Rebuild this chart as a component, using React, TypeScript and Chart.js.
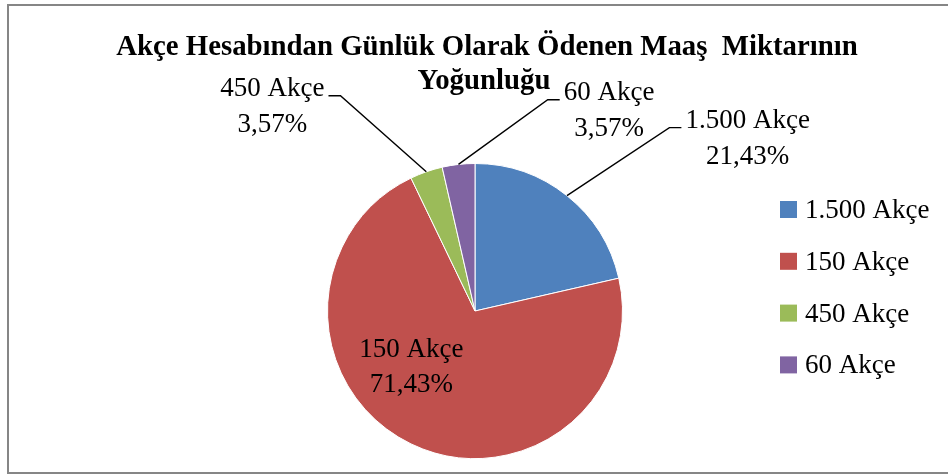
import React, { useEffect, useRef } from 'react';
import { Chart, registerables } from 'chart.js';

Chart.register(...registerables);

const TITLE_LINES = ['Akçe Hesabından Günlük Olarak Ödenen Maaş  Miktarının', 'Yoğunluğu'];
const CATEGORIES = ['1.500 Akçe', '150 Akçe', '450 Akçe', '60 Akçe'];
const COUNTS = [6, 20, 1, 1];
const COLORS = ['#4F81BD', '#C0504D', '#9BBB59', '#8064A2'];

const FONT = '"Liberation Serif", "Times New Roman", serif';
const LABEL_PX = 27;
const TITLE_PX = 28.8;

// label placement relative to the arc centre, in units of the outer radius
const LABEL_LAYOUT: any[] = [
  { kind: 'out', elbow: [1.318, -1.243], side: 1 },
  { kind: 'in', at: [-0.432, 0.311] },
  { kind: 'out', elbow: [-0.912, -1.459], side: -1 },
  { kind: 'out', elbow: [0.493, -1.432], side: 1 },
];

const fmtPct = (v: number, total: number) =>
  ((v / total) * 100).toFixed(2).replace('.', ',') + '%';

const overlay = {
  id: 'overlay',
  afterDraw(chart: any) {
    const ctx = chart.ctx as CanvasRenderingContext2D;
    ctx.save();
    ctx.fillStyle = '#000';
    ctx.textBaseline = 'alphabetic';

    // title
    ctx.font = `bold ${TITLE_PX}px ${FONT}`;
    ctx.textAlign = 'center';
    ctx.fillText(TITLE_LINES[0], 487, 55);
    ctx.fillText(TITLE_LINES[1], 484, 89);

    // legend
    ctx.font = `${LABEL_PX}px ${FONT}`;
    ctx.textAlign = 'left';
    CATEGORIES.forEach((c, i) => {
      const cy = 209.5 + i * 51.8;
      ctx.fillStyle = COLORS[i];
      ctx.fillRect(780, cy - 8.5, 17, 17);
      ctx.fillStyle = '#000';
      ctx.fillText(c, 805, cy + 8.5);
    });

    // data labels
    const total = COUNTS.reduce((a, b) => a + b, 0);
    const meta = chart.getDatasetMeta(0);
    meta.data.forEach((arc: any, i: number) => {
      const p = arc.getProps(['x', 'y', 'startAngle', 'endAngle', 'outerRadius'], true);
      const mid = (p.startAngle + p.endAngle) / 2;
      const r = p.outerRadius;
      const l1 = CATEGORIES[i];
      const l2 = fmtPct(COUNTS[i], total);
      const lay = LABEL_LAYOUT[i];
      ctx.font = `${LABEL_PX}px ${FONT}`;
      ctx.textAlign = 'center';
      ctx.fillStyle = '#000';
      if (lay.kind === 'in') {
        const tx = p.x + lay.at[0] * r;
        const ty = p.y + lay.at[1] * r;
        ctx.fillText(l1, tx, ty);
        ctx.fillText(l2, tx, ty + 35);
      } else {
        const sx = p.x + Math.cos(mid) * r;
        const sy = p.y + Math.sin(mid) * r;
        const ex = p.x + lay.elbow[0] * r;
        const ey = p.y + lay.elbow[1] * r;
        const endX = ex + lay.side * 12;
        ctx.strokeStyle = '#000';
        ctx.lineWidth = 1.4;
        ctx.beginPath();
        ctx.moveTo(sx, sy);
        ctx.lineTo(ex, ey);
        ctx.lineTo(endX, ey);
        ctx.stroke();
        const W = Math.max(ctx.measureText(l1).width, ctx.measureText(l2).width);
        const cx = lay.side > 0 ? endX + 4 + W / 2 : endX - 4 - W / 2;
        ctx.fillText(l1, cx, ey);
        ctx.fillText(l2, cx, ey + 36);
      }
    });
    ctx.restore();
  },
};

export default function App() {
  const ref = useRef<HTMLCanvasElement | null>(null);
  useEffect(() => {
    if (!ref.current) return;
    const chart = new Chart(ref.current, {
      type: 'pie',
      data: {
        labels: CATEGORIES,
        datasets: [
          {
            data: COUNTS,
            backgroundColor: COLORS,
            borderColor: '#ffffff',
            borderWidth: 1,
          },
        ],
      },
      options: {
        responsive: false,
        animation: false,
        layout: { padding: { left: 327, right: 325, top: 163, bottom: 15 } },
        plugins: {
          legend: { display: false },
          title: { display: false },
          tooltip: { enabled: false },
        },
      },
      plugins: [overlay],
    });
    return () => chart.destroy();
  }, []);

  return (
    <div
      style={{
        position: 'fixed',
        left: 0,
        top: 0,
        width: 948,
        height: 474,
        overflow: 'hidden',
        background: '#fff',
      }}
    >
      <div
        style={{
          position: 'absolute',
          left: 7,
          top: 4,
          width: 960,
          height: 470,
          border: '2px solid #868686',
          boxSizing: 'border-box',
        }}
      />
      <canvas
        ref={ref}
        width={948}
        height={474}
        style={{ position: 'absolute', left: 0, top: 0, width: 948, height: 474 }}
      />
    </div>
  );
}
